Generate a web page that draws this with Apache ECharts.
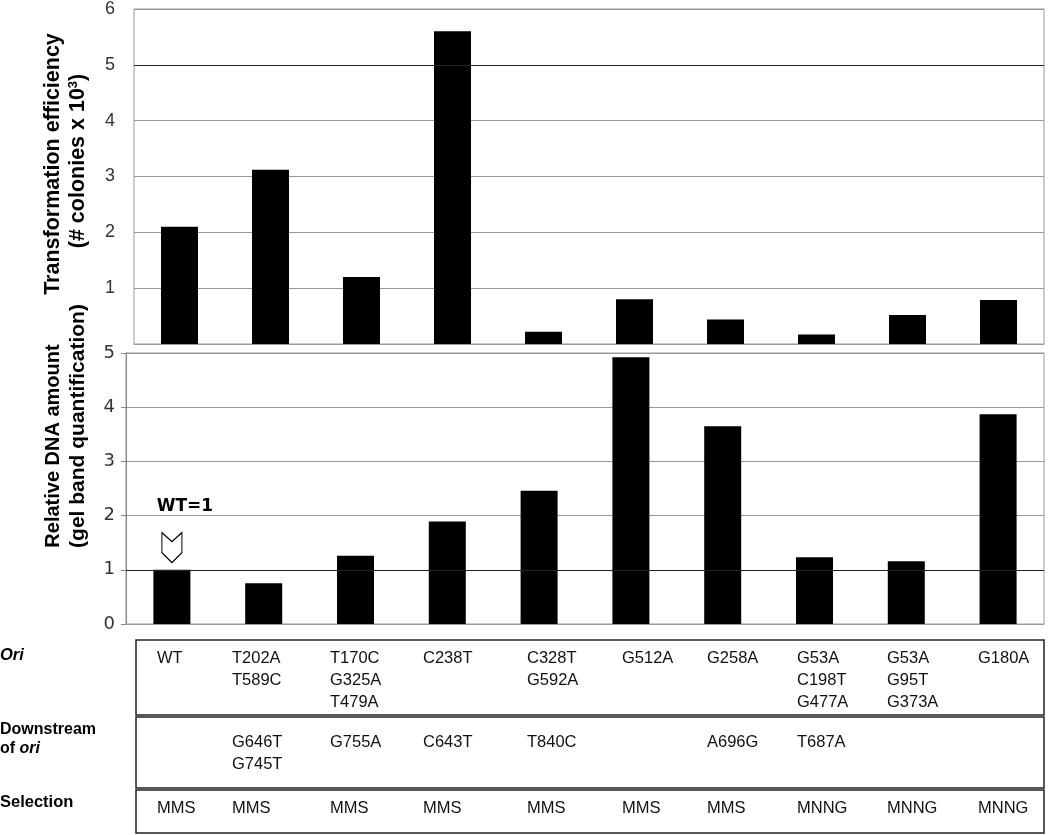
<!DOCTYPE html>
<html>
<head>
<meta charset="utf-8">
<script src="https://cdn.jsdelivr.net/npm/echarts@6/dist/echarts.min.js"></script>
<style>html,body{margin:0;padding:0;background:#fff;}#c{width:1050px;height:835px;}</style>
</head>
<body>
<div id="c"></div>
<script>
// ---- data ----
var categories = ['WT','T202A/T589C','T170C/G325A/T479A','C238T','C328T/G592A','G512A','G258A','G53A/C198T/G477A','G53A/G95T/G373A','G180A'];
var transformationEfficiency = [2.1, 3.12, 1.2, 5.6, 0.22, 0.8, 0.44, 0.17, 0.52, 0.79];
var relativeDNA = [1.0, 0.75, 1.26, 1.89, 2.46, 4.92, 3.65, 1.23, 1.16, 3.87];
var oriMutations = [['WT'],['T202A','T589C'],['T170C','G325A','T479A'],['C238T'],['C328T','G592A'],['G512A'],['G258A'],['G53A','C198T','G477A'],['G53A','G95T','G373A'],['G180A']];
var downstreamMutations = [[],['G646T','G745T'],['G755A'],['C643T'],['T840C'],[],['A696G'],['T687A'],[],[]];
var selectionAgent = ['MMS','MMS','MMS','MMS','MMS','MMS','MMS','MNNG','MNNG','MNNG'];
var topTicks = [0,1,2,3,4,5,6];
var bottomTicks = [0,1,2,3,4,5];

// ---- layout (not data) ----
var colX = [157,232,330,423,527,622,707,797,887,978];
var SANS = 'Liberation Sans, Arial, sans-serif';
var DEJ = 'DejaVu Sans, Verdana, sans-serif';

var chart = echarts.init(document.getElementById('c'));

var graphics = [];
// y axis titles
graphics.push({type:'text', x:53, y:164, rotation:Math.PI/2,
  style:{text:'Transformation efficiency', font:'bold 21.5px ' + SANS, fill:'#000', textAlign:'center', textVerticalAlign:'middle'}});
graphics.push({type:'text', x:78, y:161, rotation:Math.PI/2,
  style:{text:'(# colonies x 10{s|3})', font:'bold 21.5px ' + SANS, fill:'#000', textAlign:'center', textVerticalAlign:'middle',
    rich:{s:{fontSize:13, fontWeight:'bold', fontFamily:SANS, verticalAlign:'top', padding:[0,0,10,0]}}}});
graphics.push({type:'text', x:53, y:446, rotation:Math.PI/2,
  style:{text:'Relative DNA amount', font:'bold 20px ' + SANS, fill:'#000', textAlign:'center', textVerticalAlign:'middle'}});
graphics.push({type:'text', x:78, y:426, rotation:Math.PI/2,
  style:{text:'(gel band quantification)', font:'bold 21px ' + SANS, fill:'#000', textAlign:'center', textVerticalAlign:'middle'}});

// table boxes
var boxes = [[640,75],[717,71],[790,43]];
boxes.forEach(function(b){
  graphics.push({type:'rect', shape:{x:136, y:b[0], width:908, height:b[1]},
    style:{fill:'none', stroke:'#222', lineWidth:1.5}});
});
// row labels
graphics.push({type:'text', x:0, y:655, style:{text:'Ori', font:'italic bold 16.5px ' + SANS, fill:'#000', textVerticalAlign:'middle'}});
graphics.push({type:'text', x:0, y:730, style:{text:'Downstream', font:'bold 16px ' + SANS, fill:'#000', textVerticalAlign:'middle'}});
graphics.push({type:'text', x:0, y:749, style:{text:'of {i|ori}', font:'bold 16px ' + SANS, fill:'#000', textVerticalAlign:'middle',
  rich:{i:{fontStyle:'italic', fontWeight:'bold', fontSize:16, fontFamily:SANS}}}});
graphics.push({type:'text', x:0, y:802, style:{text:'Selection', font:'bold 16.5px ' + SANS, fill:'#000', textVerticalAlign:'middle'}});
// cell texts
function cell(x, y, lines){
  if (!lines.length) return;
  graphics.push({type:'text', x:x, y:y, style:{text:lines.join('\n'), font:'16.5px ' + SANS, fill:'#111', lineHeight:22, textVerticalAlign:'top'}});
}
for (var i = 0; i < categories.length; i++){
  cell(colX[i], 647, oriMutations[i]);
  cell(colX[i], 731, downstreamMutations[i]);
  cell(colX[i], 797, [selectionAgent[i]]);
}

var option = {
  animation:false,
  backgroundColor:'#fff',
  grid:[
    {left:134, top:8, right:6, height:336, show:true, borderColor:'#999', borderWidth:1, containLabel:false},
    {left:126, top:353, right:6, height:271, show:true, borderColor:'#999', borderWidth:1, containLabel:false}
  ],
  xAxis:[
    {type:'category', gridIndex:0, data:categories, axisLabel:{show:false}, axisTick:{show:false}, axisLine:{lineStyle:{color:'#999'}}},
    {type:'category', gridIndex:1, data:categories, axisLabel:{show:false}, axisTick:{show:false}, axisLine:{lineStyle:{color:'#999'}}}
  ],
  yAxis:[
    {type:'value', gridIndex:0, min:topTicks[0], max:topTicks[topTicks.length-1], interval:1,
      axisLine:{show:false}, axisTick:{show:false},
      axisLabel:{margin:19, fontSize:18, color:'#333', fontFamily:SANS, showMinLabel:false},
      splitLine:{lineStyle:{color:'#999', width:1}}},
    {type:'value', gridIndex:1, min:bottomTicks[0], max:bottomTicks[bottomTicks.length-1], interval:1,
      axisLine:{show:true, lineStyle:{color:'#888'}}, axisTick:{show:true, length:5, lineStyle:{color:'#888'}},
      axisLabel:{margin:11, fontSize:18, color:'#333', fontFamily:DEJ},
      splitLine:{lineStyle:{color:'#999', width:1}}}
  ],
  series:[
    {type:'bar', xAxisIndex:0, yAxisIndex:0, data:transformationEfficiency, barWidth:37,
      itemStyle:{color:'#000'},
      markLine:{silent:true, symbol:'none', label:{show:false}, lineStyle:{color:'#222', width:1.2, type:'solid'},
        data:[{yAxis:5}]}},
    {type:'bar', xAxisIndex:1, yAxisIndex:1, data:relativeDNA, barWidth:37,
      itemStyle:{color:'#000'},
      markLine:{silent:true, symbol:'none', label:{show:false}, lineStyle:{color:'#222', width:1.2, type:'solid'},
        data:[{yAxis:1}]},
      markPoint:{silent:true, data:[
        {coord:[0, 1.41], symbol:'path://M0,0 L10.5,9 L21,0 L21,20 L10.5,30 L0,20 Z', symbolSize:[20,30],
          itemStyle:{color:'#fff', borderColor:'#000', borderWidth:1.2}, label:{show:false}},
        {coord:[0, 2.17], symbol:'rect', symbolSize:[1,1], itemStyle:{color:'rgba(0,0,0,0)'},
          label:{show:true, position:'inside', offset:[13,0], formatter:'WT=1', fontSize:17, fontWeight:'bold', fontFamily:DEJ, color:'#000'}}
      ]}}
  ],
  graphic:graphics
};
chart.setOption(option);
</script>
</body>
</html>
